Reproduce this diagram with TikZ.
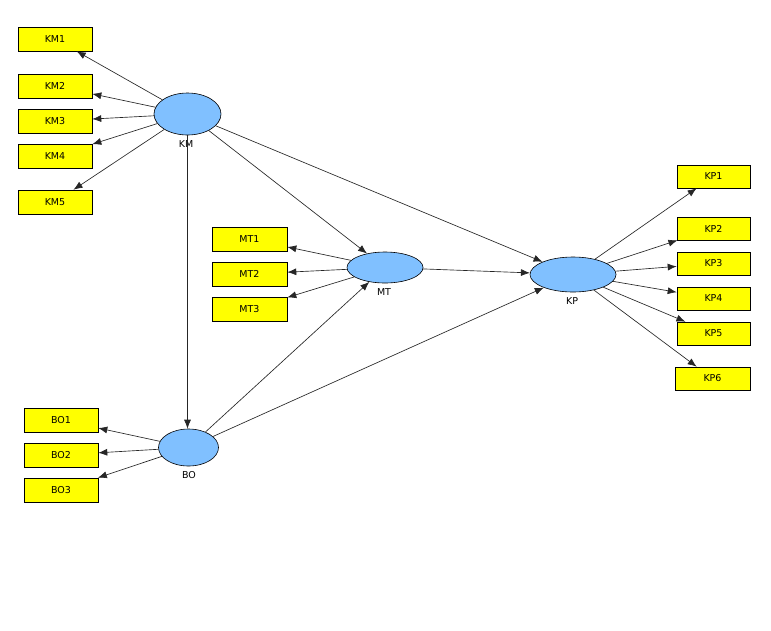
\documentclass[tikz,border=0pt]{standalone}
\usepackage{fontspec}
\setmainfont{DejaVu Sans}
\usetikzlibrary{shapes.geometric,arrows.meta}
\definecolor{lvblue}{HTML}{80C0FF}
\definecolor{mvyellow}{HTML}{FFFF00}
\definecolor{edgegray}{HTML}{262626}
\begin{document}
\begin{tikzpicture}[x=1pt,y=-1pt,
  mv/.style={draw=black,fill=mvyellow,minimum width=74pt,minimum height=24pt,inner sep=0pt,font=\fontsize{9.5}{11}\selectfont,line width=0.6pt},
  lv/.style={draw=black,fill=lvblue,shape=ellipse,inner sep=0pt,line width=0.6pt},
  lvlab/.style={font=\fontsize{9.5}{11}\selectfont,inner sep=0pt},
  arr/.style={draw=edgegray,line width=0.65pt,-{Latex[length=9pt,width=7pt]}}]
\useasboundingbox (0,0) rectangle (771,630);
\fill[white] (0,0) rectangle (771,630);
% latent variables
\node[lv,minimum width=67pt,minimum height=42pt] (KM) at (187.5,114) {};
\node[lv,minimum width=76pt,minimum height=31pt] (MT) at (385,267.5) {};
\node[lv,minimum width=86pt,minimum height=35pt] (KP) at (573,274.5) {};
\node[lv,minimum width=60pt,minimum height=37pt] (BO) at (188.5,447.5) {};
\node[lvlab] (KMl) at (186,144) {KM};
\node[lvlab] (MTl) at (384,292) {MT};
\node[lvlab] (KPl) at (572,301) {KP};
\node[lvlab] (BOl) at (189,475) {BO};
% indicators
\node[mv] (KM1) at (55,39) {KM1};
\node[mv] (KM2) at (55,86) {KM2};
\node[mv] (KM3) at (55,121) {KM3};
\node[mv] (KM4) at (55,156) {KM4};
\node[mv] (KM5) at (55,202) {KM5};
\node[mv,minimum width=75pt] (MT1) at (249.5,239) {MT1};
\node[mv,minimum width=75pt] (MT2) at (249.5,274) {MT2};
\node[mv,minimum width=75pt] (MT3) at (249.5,309) {MT3};
\node[mv,minimum width=73pt,minimum height=23pt] (KP1) at (713.5,176.5) {KP1};
\node[mv,minimum width=73pt,minimum height=23pt] (KP2) at (713.5,228.5) {KP2};
\node[mv,minimum width=73pt,minimum height=23pt] (KP3) at (713.5,263.5) {KP3};
\node[mv,minimum width=73pt,minimum height=23pt] (KP4) at (713.5,298.5) {KP4};
\node[mv,minimum width=73pt,minimum height=23pt] (KP5) at (713.5,333.5) {KP5};
\node[mv,minimum width=75pt,minimum height=23pt] (KP6) at (712.5,378.5) {KP6};
\node[mv] (BO1) at (61,420) {BO1};
\node[mv] (BO2) at (61,455) {BO2};
\node[mv] (BO3) at (61,490) {BO3};
% outer model arrows
\foreach \i in {1,...,5} \draw[arr] (KM) -- (KM\i);
\foreach \i in {1,...,3} \draw[arr] (MT) -- (MT\i);
\foreach \i in {1,...,6} \draw[arr] (KP) -- (KP\i);
\foreach \i in {1,...,3} \draw[arr] (BO) -- (BO\i);
% inner model arrows
\draw[arr] (KM) -- (KM |- BO.north);
\draw[arr] (KM) -- (MT);
\draw[arr] (KM) -- (KP);
\draw[arr] (MT) -- (KP);
\draw[arr] (BO) -- (MT);
\draw[arr] (BO) -- (KP);
\end{tikzpicture}
\end{document}
